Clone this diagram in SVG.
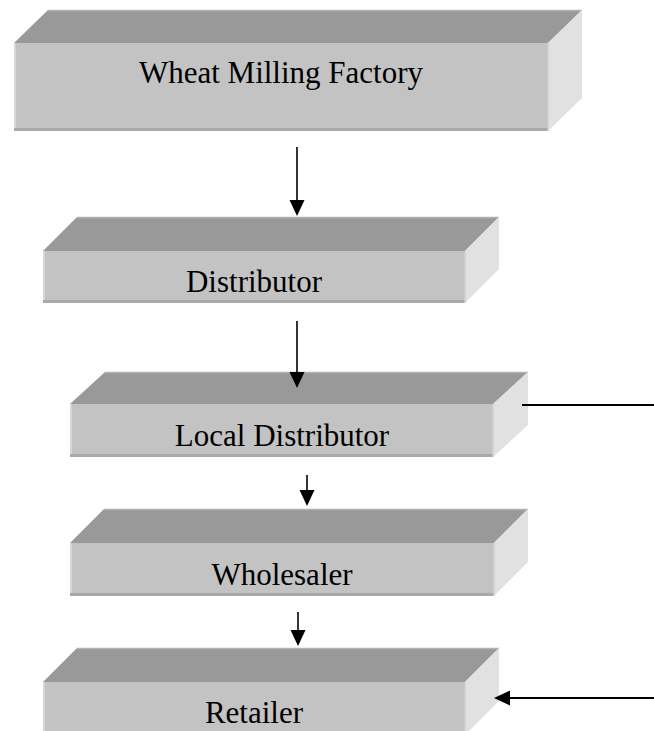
<svg xmlns="http://www.w3.org/2000/svg" width="654" height="731" viewBox="0 0 654 731">
<style>
.top{fill:#999999}
.topedge{stroke:#b2b2b2;stroke-width:1.5;fill:none}
.side{fill:#e1e1e1}
.front{fill:#c3c3c3}
.fl{fill:#d6d6d6}
.fb{fill:#a9a9a9}
.fr{stroke:#d0d0d0;stroke-width:1.5}
.lbl{font-family:"Liberation Serif","Times New Roman",serif;font-size:31px;fill:#000;text-anchor:middle}
.conn line{stroke:#000;stroke-width:1.6}
.conn polygon{fill:#000}
</style>
<rect width="654" height="731" fill="#fff"/>
<g id="node-wheat">
<polygon class="top" points="14,43 48,10 582,10 548,43"/>
<line class="topedge" x1="48" y1="10.5" x2="582" y2="10.5"/>
<polygon class="side" points="548,43 582,10 582,98 548,131"/>
<rect class="front" x="14" y="43" width="534" height="88"/>
<rect class="fl" x="14" y="43" width="2" height="88"/>
<rect class="fb" x="14" y="128" width="534" height="3"/>
<line class="fr" x1="548" y1="43" x2="548" y2="131"/>
<text class="lbl" x="281" y="83">Wheat Milling Factory</text>
</g>
<g id="node-distributor">
<polygon class="top" points="43,251 77,217 499,217 465,251"/>
<line class="topedge" x1="77" y1="217.5" x2="499" y2="217.5"/>
<polygon class="side" points="465,251 499,217 499,269 465,303"/>
<rect class="front" x="43" y="251" width="422" height="52"/>
<rect class="fl" x="43" y="251" width="2" height="52"/>
<rect class="fb" x="43" y="300" width="422" height="3"/>
<line class="fr" x1="465" y1="251" x2="465" y2="303"/>
<text class="lbl" x="254" y="292">Distributor</text>
</g>
<g id="node-local">
<polygon class="top" points="70,404 105,372 528,372 493,404"/>
<line class="topedge" x1="105" y1="372.5" x2="528" y2="372.5"/>
<polygon class="side" points="493,404 528,372 528,425 493,457"/>
<rect class="front" x="70" y="404" width="423" height="53"/>
<rect class="fl" x="70" y="404" width="2" height="53"/>
<rect class="fb" x="70" y="454" width="423" height="3"/>
<line class="fr" x1="493" y1="404" x2="493" y2="457"/>
<text class="lbl" x="282" y="446">Local Distributor</text>
</g>
<g id="node-wholesaler">
<polygon class="top" points="70,543 104,509 528,509 494,543"/>
<line class="topedge" x1="104" y1="509.5" x2="528" y2="509.5"/>
<polygon class="side" points="494,543 528,509 528,562 494,596"/>
<rect class="front" x="70" y="543" width="424" height="53"/>
<rect class="fl" x="70" y="543" width="2" height="53"/>
<rect class="fb" x="70" y="593" width="424" height="3"/>
<line class="fr" x1="494" y1="543" x2="494" y2="596"/>
<text class="lbl" x="282" y="585">Wholesaler</text>
</g>
<g id="node-retailer">
<polygon class="top" points="43,682 77,648 499,648 465,682"/>
<line class="topedge" x1="77" y1="648.5" x2="499" y2="648.5"/>
<polygon class="side" points="465,682 499,648 499,701 465,735"/>
<rect class="front" x="43" y="682" width="422" height="53"/>
<rect class="fl" x="43" y="682" width="2" height="53"/>
<line class="fr" x1="465" y1="682" x2="465" y2="735"/>
<text class="lbl" x="254" y="723">Retailer</text>
</g>
<g id="connectors" class="conn">
<line x1="297" y1="147" x2="297" y2="202"/>
<polygon points="289.5,200 304.5,200 297,216"/>
<line x1="297" y1="321" x2="297" y2="374"/>
<polygon points="289.5,372 304.5,372 297,388"/>
<line x1="307" y1="475" x2="307" y2="492"/>
<polygon points="299.5,490 314.5,490 307,506"/>
<line x1="298" y1="612" x2="298" y2="632"/>
<polygon points="290.5,630 305.5,630 298,646"/>
<line x1="522" y1="405" x2="654" y2="405" style="stroke-width:2"/>
<line x1="508" y1="698" x2="654" y2="698" style="stroke-width:2"/>
<polygon points="494,698 510,690.5 510,705.5"/>
</g>
</svg>
